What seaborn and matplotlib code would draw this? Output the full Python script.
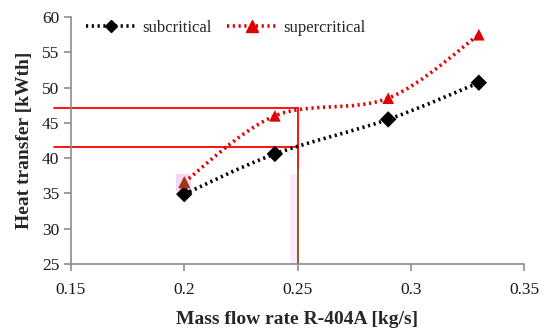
import matplotlib
matplotlib.use("Agg")
import matplotlib.pyplot as plt
from matplotlib.path import Path
from matplotlib.patches import PathPatch, Rectangle
from matplotlib.lines import Line2D
import numpy as np
import pandas as pd
import seaborn as sns

# data
mass_flow = [0.20, 0.24, 0.29, 0.33]
subcritical = [34.9, 40.6, 45.5, 50.7]
supercritical = [36.6, 46.0, 48.5, 57.5]
series_names = ["subcritical", "supercritical"]
guide_x = 0.25
guide_sub = 41.6
guide_sup = 47.1

df = pd.DataFrame({
    "flow": mass_flow * 2,
    "heat": subcritical + supercritical,
    "cycle": [series_names[0]] * 4 + [series_names[1]] * 4,
})

sns.set_style("white")
plt.rcParams["font.family"] = ["Liberation Serif", "DejaVu Serif"]


def excel_smooth(x, y):
    """Bezier path through the points, like Excel's smoothed line"""
    pts = np.column_stack([x, y])
    ext = np.vstack([pts[0], pts, pts[-1]])
    verts = [pts[0]]
    codes = [Path.MOVETO]
    for i in range(len(pts) - 1):
        p0, p1, p2, p3 = ext[i], ext[i + 1], ext[i + 2], ext[i + 3]
        verts += [p1 + (p2 - p0) / 6, p2 - (p3 - p1) / 6, p2]
        codes += [Path.CURVE4] * 3
    return Path(verts, codes)


fig = plt.figure(figsize=(5.5, 3.35), dpi=100)
ax = fig.add_axes([0.129, 0.212, 0.824, 0.737])

# light pink highlights seen in the original
ax.add_patch(Rectangle((0.1965, 35.4), 0.0065, 2.3, color="#f6d6f2", zorder=1, lw=0))
ax.add_patch(Rectangle((0.2465, 25), 0.0035, 12.8, color="#fcecfa", zorder=1, lw=0))

# guide lines
ax.plot([0.1425, guide_x], [guide_sup, guide_sup], color="#ff0000", lw=1.3, clip_on=False, zorder=2)
ax.plot([0.1425, guide_x], [guide_sub, guide_sub], color="#ff0000", lw=1.3, clip_on=False, zorder=2)
ax.plot([guide_x, guide_x], [38.6, guide_sup], color="#ff0000", lw=1.3, zorder=2)
ax.plot([guide_x, guide_x], [25, 38.6], color="#8b4a1c", lw=1.3, zorder=2)

colors = {"subcritical": "black", "supercritical": "#e00000"}
dots = (0, (0.6, 1.0))
for name, vals in zip(series_names, [subcritical, supercritical]):
    ax.add_patch(PathPatch(excel_smooth(mass_flow, vals), fc="none", ec=colors[name],
                           lw=2.6, ls=dots, capstyle="butt", zorder=3))

sns.scatterplot(data=df, x="flow", y="heat", hue="cycle", style="cycle",
                palette=colors, markers={"subcritical": "D", "supercritical": "^"},
                s=70, edgecolor="none", legend=False, ax=ax, zorder=4)
# brownish triangle at 0.2 in the original
ax.scatter([mass_flow[0]], [supercritical[0]], marker="^", s=70, color="#9a3a10", zorder=5, lw=0)

ax.set_xlim(0.15, 0.35)
ax.set_ylim(25, 60)
ax.set_xticks([0.15, 0.2, 0.25, 0.3, 0.35])
ax.set_xticklabels(["0.15", "0.2", "0.25", "0.3", "0.35"])
ax.set_yticks(range(25, 61, 5))
for s in ["top", "right"]:
    ax.spines[s].set_visible(False)
for s in ["left", "bottom"]:
    ax.spines[s].set_color("#8c8c8c")
    ax.spines[s].set_linewidth(1.2)
ax.tick_params(axis="both", length=5, width=1.2, color="#8c8c8c", labelsize=12.5,
               labelcolor="#1a1a1a", direction="out", left=True, bottom=True)
ax.tick_params(axis="x", pad=8)
ax.set_xlabel("Mass flow rate R-404A [kg/s]", fontsize=14, fontweight="bold", labelpad=9)
ax.set_ylabel("Heat transfer [kWth]", fontsize=14, fontweight="bold", labelpad=6)

handles = [
    Line2D([], [], color="black", lw=2.6, ls=dots, marker="D", markersize=6.5),
    Line2D([], [], color="#e00000", lw=2.6, ls=dots, marker="^", markersize=8.5),
]
ax.legend(handles, series_names, loc="upper left", bbox_to_anchor=(0.0, 1.05), ncol=2,
          frameon=False, fontsize=12, handlelength=3.0, columnspacing=0.9, handletextpad=0.4)

fig.savefig("out.png", dpi=100)
plt.close(fig)
